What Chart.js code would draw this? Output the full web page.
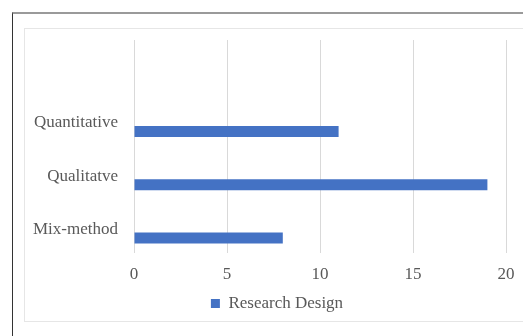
<!DOCTYPE html>
<html>
<head>
<meta charset="utf-8">
<script src="https://cdn.jsdelivr.net/npm/chart.js@4"></script>
<style>
  html, body { margin: 0; padding: 0; background: #fff; }
  #wrap { position: relative; width: 523px; height: 336px; overflow: hidden; }
  #outer { position: absolute; left: 12px; top: 12px; width: 520px; height: 330px;
           border-left: 1px solid #333; border-top: 2px solid #9a9a9a; }
  #inner { position: absolute; left: 24px; top: 28px; width: 520px; height: 292px;
           border: 1px solid #e6e6e6; }
  canvas { position: absolute; left: 0; top: 0; }
</style>
</head>
<body>
<div id="wrap">
  <div id="outer"></div>
  <div id="inner"></div>
  <canvas id="chart" width="523" height="336"></canvas>
</div>
<script>
// categories top to bottom (top slot is empty, like the source)
const categories = ["", "Quantitative", "Qualitatve", "Mix-method"];
const researchDesign = [null, 11, 19, 8];
const spacer = [null, null, null, null];
const xTicks = [0, 5, 10, 15, 20];

const serif = "'Liberation Serif', 'Times New Roman', serif";
const textColor = "#595959";

// excel centres the legend on the whole chart box, nudge it over
const legendShift = {
    id: "legendShift",
    afterLayout(chart) {
        chart.legend.left += 14;
        chart.legend.right += 14;
    }
};

const ctx = document.getElementById("chart").getContext("2d");
new Chart(ctx, {
    type: "bar",
    data: {
        labels: categories,
        datasets: [
            {
                label: "",
                data: spacer,
                backgroundColor: "#ffffff"
            },
            {
                label: "Research Design",
                data: researchDesign,
                backgroundColor: "#4472C4"
            }
        ]
    },
    options: {
        indexAxis: "y",
        responsive: false,
        animation: false,
        categoryPercentage: 0.87,
        barPercentage: 0.48,
        layout: { padding: { left: 20, top: 40, right: 17, bottom: 14 } },
        plugins: {
            tooltip: { enabled: false },
            legend: {
                position: "bottom",
                labels: {
                    font: { family: serif, size: 17 },
                    color: textColor,
                    boxWidth: 9,
                    boxHeight: 9,
                    padding: 3,
                    filter: item => item.text !== ""
                }
            }
        },
        scales: {
            x: {
                min: 0,
                max: 20,
                afterBuildTicks: scale => { scale.ticks = xTicks.map(v => ({ value: v })); },
                afterFit: scale => {
                    scale.height = 39;
                    scale.paddingLeft = 0;
                    scale.paddingRight = 0;
                },
                grid: { color: "#d9d9d9", drawTicks: false },
                border: { display: false },
                ticks: {
                    font: { family: serif, size: 17 },
                    color: textColor,
                    padding: 11
                }
            },
            y: {
                grid: { display: false },
                border: { display: false },
                afterFit: scale => { scale.width = 114; },
                ticks: {
                    font: { family: serif, size: 17 },
                    color: textColor,
                    padding: 8,
                    labelOffset: 3
                }
            }
        }
    },
    plugins: [legendShift]
});
</script>
</body>
</html>
